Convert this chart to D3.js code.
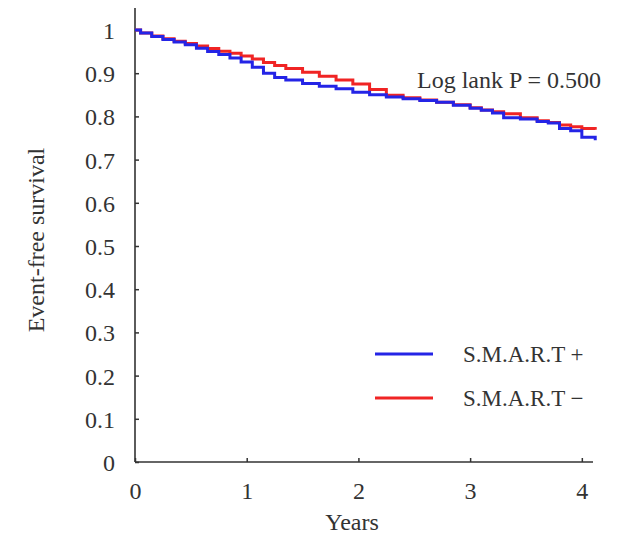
<!DOCTYPE html>
<html>
<head>
<meta charset="utf-8">
<script src="https://cdn.jsdelivr.net/npm/d3@7"></script>
<style>
  body { margin: 0; background: #fff; }
  text { font-family: "Liberation Serif", "Times New Roman", serif; fill: #333; }
</style>
</head>
<body>
<svg id="chart" width="633" height="538"></svg>
<script>
// Data
const times = [0, 0.05, 0.15, 0.25, 0.35, 0.45, 0.55, 0.65, 0.75, 0.85, 0.95, 1.05, 1.15, 1.25, 1.35, 1.5, 1.65, 1.8, 1.95, 2.1, 2.25, 2.4, 2.55, 2.7, 2.85, 3.0, 3.1, 3.2, 3.3, 3.45, 3.6, 3.7, 3.8, 3.9, 4.0, 4.12];
const smartPlus  = [1.0, 0.993, 0.985, 0.978, 0.972, 0.966, 0.958, 0.950, 0.943, 0.935, 0.926, 0.914, 0.900, 0.890, 0.884, 0.876, 0.870, 0.864, 0.856, 0.850, 0.845, 0.841, 0.837, 0.833, 0.826, 0.819, 0.814, 0.808, 0.797, 0.794, 0.788, 0.785, 0.772, 0.767, 0.752, 0.745];
const smartMinus = [1.0, 0.993, 0.986, 0.980, 0.974, 0.969, 0.963, 0.957, 0.951, 0.946, 0.940, 0.933, 0.925, 0.918, 0.911, 0.902, 0.893, 0.884, 0.875, 0.862, 0.849, 0.843, 0.838, 0.833, 0.827, 0.820, 0.815, 0.811, 0.806, 0.797, 0.790, 0.786, 0.780, 0.776, 0.772, 0.769];
const yTicks = [0, 0.1, 0.2, 0.3, 0.4, 0.5, 0.6, 0.7, 0.8, 0.9, 1];
const xTicks = [0, 1, 2, 3, 4];
const seriesNames = ["S.M.A.R.T +", "S.M.A.R.T \u2212"];
const seriesColors = ["#2424e6", "#f02424"];

const svg = d3.select("#chart");

// Set up scales
const x = d3.scaleLinear().domain([0, 4.1]).range([135, 593]);
const y = d3.scaleLinear().domain([0, 1]).range([462, 30]);

// Axes, ticks pointing inward
const yAxis = d3.axisLeft(y).tickValues(yTicks).tickSize(-4).tickPadding(20)
  .tickFormat(d => d === 0 || d === 1 ? d3.format("d")(d) : d3.format(".1f")(d));
const xAxis = d3.axisBottom(x).tickValues(xTicks).tickSize(-4).tickPadding(20).tickFormat(d3.format("d"));

const gy = svg.append("g").attr("transform", "translate(135,0)").call(yAxis);
const gx = svg.append("g").attr("transform", "translate(0,462)").call(xAxis);

[gx, gy].forEach(g => {
  g.select(".domain").remove();
  g.selectAll(".tick line").attr("stroke", "#333").attr("stroke-width", 1.5);
  g.selectAll(".tick text").style("font-size", "24px").attr("fill", "#333");
});
gy.selectAll(".tick text").attr("dy", "0.35em");
gx.selectAll(".tick text").attr("dy", "0.71em");

// Axis lines
svg.append("line").attr("x1", 135).attr("x2", 135).attr("y1", 8).attr("y2", 462)
  .attr("stroke", "#333").attr("stroke-width", 1.6);
svg.append("line").attr("x1", 135).attr("x2", 593).attr("y1", 462).attr("y2", 462)
  .attr("stroke", "#333").attr("stroke-width", 1.6);

// Survival curves
const line = d3.line()
  .x(d => x(d[0]))
  .y(d => y(d[1]))
  .curve(d3.curveStepAfter);

[smartMinus, smartPlus].forEach((vals, i) => {
  const idx = i === 0 ? 1 : 0;
  svg.append("path")
    .datum(times.map((t, j) => [t, vals[j]]))
    .attr("fill", "none")
    .attr("stroke", seriesColors[idx])
    .attr("stroke-width", 3)
    .attr("d", line);
});

// Axis titles
svg.append("text").attr("x", 352).attr("y", 530).attr("text-anchor", "middle")
  .style("font-size", "24px").text("Years");
svg.append("text").attr("transform", "translate(44,240) rotate(-90)").attr("text-anchor", "middle")
  .style("font-size", "24px").text("Event-free survival");

// Annotation
svg.append("text").attr("x", 417).attr("y", 88).style("font-size", "24px").text("Log lank P = 0.500");

// Legend
const legend = svg.append("g");
seriesNames.forEach((name, i) => {
  const ly = 354 + i * 44;
  legend.append("line").attr("x1", 375).attr("x2", 433).attr("y1", ly).attr("y2", ly)
    .attr("stroke", seriesColors[i]).attr("stroke-width", 3);
  legend.append("text").attr("x", 463).attr("y", ly + 8).style("font-size", "23px").text(name);
});
</script>
</body>
</html>
